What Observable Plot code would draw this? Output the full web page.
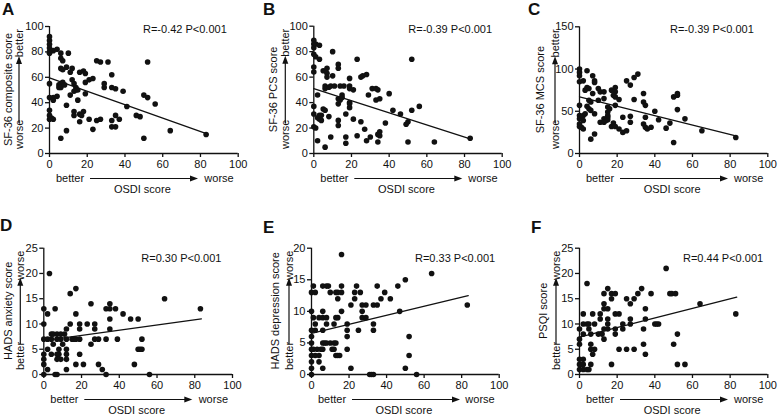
<!DOCTYPE html>
<html><head><meta charset="utf-8">
<script src="https://cdn.jsdelivr.net/npm/d3@7"></script>
<script src="https://cdn.jsdelivr.net/npm/@observablehq/plot@0.6"></script>
<style>
body{margin:0;background:#fff;}
#wrap{position:relative;width:778px;height:415px;overflow:hidden;background:#fff;}
.panel{position:absolute;}
</style></head><body><div id="wrap"></div>
<script>
// ---------- data (OSDI score, outcome score) ----------
const pointsA = [[0,92],[0,89],[0,86],[0,83],[0,80],[2,81],[4,82],[0,79],[0,55],[0,44],[0,34],[0,30],[0,27],[1,28],[2,27],[2,44],[2,42],[4,45],[6,79],[6,75],[7,73],[6,67],[7,66],[9,68],[10,79],[11,64],[12,67],[12,58],[13,55],[14,52],[14,50],[5,54],[6,55],[7,56],[5,52],[6,52],[8,54],[9,38],[9,18],[6,12],[11,46],[13,49],[15,42],[13,33],[13,30],[15,50],[16,64],[18,65],[19,63],[19,56],[21,58],[23,59],[19,47],[16,31],[17,30],[18,33],[16,25],[21,27],[23,19],[25,73],[27,72],[31,72],[29,55],[29,52],[33,62],[33,52],[35,51],[33,26],[33,21],[35,21],[35,30],[37,27],[25,26],[27,27],[39,49],[41,37],[46,30],[48,29],[50,46],[52,44],[56,39],[52,72],[50,12],[64,18],[83,15]];
const pointsB = [[0,89],[0,86],[0,83],[1,86],[3,85],[0,78],[1,76],[3,74],[0,68],[0,64],[0,37],[0,31],[0,21],[1,20],[2,28],[2,46],[3,30],[3,27],[4,26],[4,30],[2,10],[5,35],[6,34],[5,65],[7,67],[7,63],[7,60],[6,53],[6,51],[8,52],[9,53],[8,29],[9,13],[6,5],[10,80],[10,61],[13,70],[13,67],[11,53],[14,53],[16,53],[19,53],[13,43],[13,39],[14,42],[15,46],[15,44],[13,26],[13,22],[17,31],[19,36],[19,40],[19,39],[19,51],[19,59],[21,50],[21,27],[17,13],[17,8],[23,74],[25,60],[26,61],[28,62],[25,25],[27,19],[23,14],[28,10],[30,13],[29,46],[31,51],[33,51],[34,50],[33,42],[35,43],[38,24],[34,15],[34,9],[35,14],[35,17],[40,47],[42,34],[46,31],[49,23],[50,25],[50,9],[52,74],[52,34],[56,37],[64,9],[83,12]];
const pointsC = [[0,100],[0,96],[0,92],[0,85],[2,86],[0,57],[0,45],[1,43],[2,45],[0,41],[0,35],[0,32],[1,31],[2,29],[2,39],[3,47],[4,98],[3,75],[4,78],[5,77],[4,56],[5,53],[5,63],[7,92],[8,86],[7,71],[8,84],[6,51],[6,17],[8,23],[8,47],[6,61],[10,77],[11,73],[13,73],[13,65],[10,63],[11,37],[13,37],[13,41],[15,55],[15,49],[15,43],[14,39],[15,40],[15,45],[16,53],[17,75],[19,78],[19,73],[18,69],[19,67],[19,57],[17,32],[18,36],[19,32],[21,29],[21,64],[23,43],[23,25],[25,27],[25,86],[27,81],[27,37],[27,44],[29,90],[31,94],[29,64],[34,71],[34,61],[35,57],[34,35],[35,31],[35,43],[36,29],[38,31],[40,50],[42,40],[46,30],[48,36],[50,67],[52,69],[52,71],[52,52],[50,13],[56,41],[65,27],[83,19]];
const pointsD = [[0,0],[0,2],[0,3],[0,4],[0,7],[0,10],[0,13],[3,20],[2,12],[2,1],[2,7],[2,5],[4,7],[5,6],[4,4],[6,0],[7,0],[6,13],[7,7],[7,8],[8,5],[9,8],[9,7],[7,4],[8,4],[7,3],[9,3],[10,6],[11,8],[12,7],[12,5],[12,4],[12,3],[12,1],[15,7],[16,7],[14,10],[12,9],[14,16],[17,17],[17,12],[17,7],[17,2],[19,7],[19,10],[19,9],[19,4],[21,2],[23,10],[25,14],[25,6],[27,10],[27,9],[27,7],[29,7],[29,2],[31,1],[33,0],[33,7],[33,13],[35,14],[35,13],[35,11],[35,9],[38,13],[39,7],[42,12],[46,11],[48,2],[50,11],[50,5],[51,5],[52,7],[52,5],[56,0],[64,15],[83,13],[4,8],[5,8]];
const pointsE = [[0,0],[0,1],[0,2],[0,3],[0,4],[0,5],[0,6],[0,7],[0,10],[0,13],[1,14],[2,13],[1,4],[2,3],[3,4],[4,3],[2,7],[2,8],[1,9],[4,9],[4,2],[5,4],[6,4],[6,5],[7,5],[6,1],[6,7],[6,10],[6,9],[6,14],[8,14],[9,14],[8,9],[8,8],[8,5],[10,5],[10,13],[11,4],[12,4],[12,5],[13,5],[12,8],[13,9],[14,9],[14,12],[13,13],[14,13],[13,3],[14,3],[15,3],[16,14],[16,19],[16,13],[16,10],[19,8],[19,7],[19,6],[19,4],[21,1],[21,11],[23,13],[23,12],[24,14],[26,13],[25,7],[27,10],[27,9],[27,11],[29,11],[29,9],[31,0],[32,0],[33,0],[33,8],[33,7],[33,11],[35,11],[35,14],[37,12],[39,13],[42,12],[46,14],[47,10],[50,15],[50,1],[52,6],[52,3],[56,0],[64,16],[83,11]];
const pointsF = [[0,1],[0,2],[0,3],[0,6],[0,7],[0,9],[1,2],[2,1],[2,3],[2,2],[4,1],[5,1],[2,12],[2,10],[2,8],[4,10],[5,9],[5,10],[4,18],[6,8],[7,12],[6,6],[6,5],[7,4],[6,2],[8,5],[8,10],[10,8],[11,11],[11,12],[12,8],[13,16],[13,14],[13,13],[13,9],[13,7],[15,13],[15,17],[15,11],[15,10],[15,9],[17,16],[17,15],[17,2],[19,16],[19,12],[19,9],[19,8],[21,12],[21,5],[23,10],[23,9],[25,5],[25,15],[27,14],[27,11],[27,10],[29,5],[29,15],[31,16],[33,17],[34,9],[34,6],[35,13],[35,11],[35,4],[38,16],[40,10],[41,10],[42,10],[46,21],[48,16],[49,16],[51,16],[50,6],[52,8],[52,2],[56,2],[64,14],[83,12]];

// regression line end points
const fitX = [[0,83.5],[0,83],[0,83],[0,83.5],[0,83.5],[0,83.5]];
const fitY = [[59.5,15.5],[51,11.5],[67,21],[6.7,11],[6.5,12.5],[7.4,15.3]];

// labels / ticks
const panelLetters = ["A","B","C","D","E","F"];
const yLabels = ["SF-36 composite score","SF-36 PCS score","SF-36 MCS score","HADS anxiety score","HADS depression score","PSQI score"];
const yTopWords = ["better","better","better","worse","worse","worse"];
const yBottomWords = ["worse","worse","worse","better","better","better"];
const statLabels = ["R=-0.42 P<0.001","R=-0.39 P<0.001","R=-0.39 P<0.001","R=0.30 P<0.001","R=0.33 P<0.001","R=0.44 P<0.001"];
const xLabel = "OSDI score";
const xWords = ["better","worse"];
const xTicks = [0,20,40,60,80,100];
const yDomains = [[0,100],[0,100],[0,150],[0,25],[0,20],[0,25]];
const yTickList = [[0,20,40,60,80,100],[0,20,40,60,80,100],[0,50,100,150],[0,5,10,15,20,25],[0,5,10,15,20],[0,5,10,15,20,25]];
const allPoints = [pointsA,pointsB,pointsC,pointsD,pointsE,pointsF];

// ---------- layout ----------
const layout = [
  {left:0,   top:0,   h:207, ml:49,   mr:21.3, mt:26,   mb:54, labOff:41, arrOff:30, letter:[2,15], stat:[94,7]},
  {left:259, top:0,   h:207, ml:54.3, mr:16.3, mt:25.7, mb:54, labOff:40, arrOff:28, letter:[4,15], stat:[95,7]},
  {left:519, top:0,   h:207, ml:60,   mr:10.7, mt:26.3, mb:54, labOff:39, arrOff:24, letter:[9,15], stat:[91,7]},
  {left:0,   top:207, h:208, ml:43.3, mr:27,   mt:40.7, mb:41, labOff:35, arrOff:23, letter:[0,24], stat:[98,14]},
  {left:259, top:207, h:208, ml:52,   mr:19.3, mt:40.7, mb:41, labOff:36, arrOff:22, letter:[4,26], stat:[104,14]},
  {left:519, top:207, h:208, ml:60,   mr:10.7, mt:40.7, mb:41, labOff:36, arrOff:23, letter:[12,26], stat:[104,14]}
];
const W = 259;
const INK = "#111";
const FONT = "'Liberation Sans', Arial, Helvetica, sans-serif";

function arrow(g, xa, ya, xb, yb){
  const dx = xb-xa, dy = yb-ya, len = Math.hypot(dx,dy), ux = dx/len, uy = dy/len;
  const hl = 8, hw = 3;
  const bx = xb-ux*hl, by = yb-uy*hl;
  g.append("line").attr("x1",xa).attr("y1",ya).attr("x2",bx+ux*1).attr("y2",by+uy*1)
    .attr("stroke",INK).attr("stroke-width",1.2);
  g.append("path").attr("d",`M${xb},${yb}L${bx-uy*hw},${by+ux*hw}L${bx+uy*hw},${by-ux*hw}Z`).attr("fill",INK);
}

function annotations(i){
  const L = layout[i];
  return () => {
    const x0 = L.ml, x1 = W - L.mr, yT = L.mt, yB = L.h - L.mb;
    const g = d3.create("svg:g").attr("fill",INK).attr("font-family",FONT).attr("font-size",11)
      .attr("text-anchor","start");
    g.append("text").attr("x",L.letter[0]).attr("y",L.letter[1]).attr("font-size",17).attr("font-weight","bold").text(panelLetters[i]);
    g.append("text").attr("x",x0+L.stat[0]).attr("y",yT+L.stat[1]).text(statLabels[i]);
    // x-axis annotations
    g.append("text").attr("x",x0+7).attr("y",yB+29).text(xWords[0]);
    g.append("text").attr("x",x1-4).attr("y",yB+29).attr("text-anchor","end").text(xWords[1]);
    arrow(g, x0+41, yB+25.5, x0+149, yB+25.5);
    g.append("text").attr("x",(x0+x1)/2-1).attr("y",yB+40).attr("text-anchor","middle").text(xLabel);
    // y-axis annotations
    const cy = (yT+yB)/2;
    g.append("text").attr("transform",`translate(${x0-L.labOff},${cy}) rotate(-90)`)
      .attr("text-anchor","middle").attr("dy","0.35em").text(yLabels[i]);
    const ax = x0-L.arrOff;
    g.append("text").attr("transform",`translate(${ax},${yT+3}) rotate(-90)`)
      .attr("text-anchor","end").attr("dy","0.35em").text(yTopWords[i]);
    g.append("text").attr("transform",`translate(${ax},${yB-4}) rotate(-90)`)
      .attr("text-anchor","start").attr("dy","0.35em").text(yBottomWords[i]);
    arrow(g, ax, yB-30, ax, yT+30);
    return g.node();
  };
}

const wrap = document.getElementById("wrap");
allPoints.forEach((pts, i) => {
  const L = layout[i];
  const rows = pts.map(([x,y]) => ({x, y}));
  const fit = fitX[i].map((x,k) => ({x, y: fitY[i][k]}));
  const chart = Plot.plot({
    width: W, height: L.h,
    marginLeft: L.ml, marginRight: L.mr, marginTop: L.mt, marginBottom: L.mb,
    style: {fontFamily: FONT, fontSize: "11px", color: INK, background: "transparent", overflow: "visible"},
    x: {domain: [0,100]},
    y: {domain: yDomains[i]},
    marks: [
      Plot.axisX({ticks: xTicks, tickSize: 4, tickPadding: 3, label: null, strokeWidth: 1.3, fontSize: 11}),
      Plot.axisY({ticks: yTickList[i], tickSize: 4, tickPadding: 2, label: null, strokeWidth: 1.3, fontSize: 11}),
      Plot.ruleY([0], {stroke: INK, strokeWidth: 1.3}),
      Plot.ruleX([0], {stroke: INK, strokeWidth: 1.3}),
      Plot.line(fit, {x: "x", y: "y", stroke: INK, strokeWidth: 1.3}),
      Plot.dot(rows, {x: "x", y: "y", r: 2.8, fill: INK, stroke: "none"}),
      annotations(i)
    ]
  });
  chart.classList.add("panel");
  chart.style.left = L.left + "px";
  chart.style.top = L.top + "px";
  chart.style.position = "absolute";
  wrap.appendChild(chart);
});
</script>
</body></html>
